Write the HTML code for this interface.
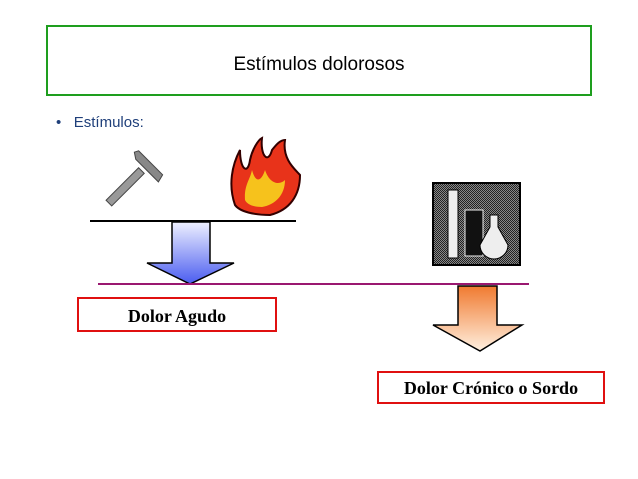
<!DOCTYPE html>
<html><head><meta charset="utf-8"><style>
body{margin:0;width:638px;height:479px;background:#fff;position:relative;overflow:hidden;font-family:"Liberation Sans",sans-serif}
.a{position:absolute}
</style></head><body>
<div class="a" style="left:46px;top:25px;width:542px;height:67px;border:2px solid #1e9e1e;"></div>
<div class="a" style="left:48px;top:54px;width:542px;text-align:center;font-size:19px;color:#000">Estímulos dolorosos</div>
<div class="a" style="left:56px;top:114px;font-size:15px;color:#1f3f7a">•&nbsp;&nbsp;&nbsp;Estímulos:</div>
<svg class="a" style="left:0;top:0" width="638" height="479">
<defs>
<linearGradient id="b" x1="0" y1="0" x2="0" y2="1"><stop offset="0" stop-color="#eef0ff"/><stop offset="1" stop-color="#4a5cf0"/></linearGradient>
<linearGradient id="o" x1="0" y1="0" x2="0" y2="1"><stop offset="0" stop-color="#f07a30"/><stop offset="1" stop-color="#fff0e0"/></linearGradient>
<pattern id="d" width="2" height="2" patternUnits="userSpaceOnUse"><rect width="2" height="2" fill="#888"/><rect width="1" height="1" fill="#222"/><rect x="1" y="1" width="1" height="1" fill="#222"/></pattern>
</defs>
<!-- hammer -->
<g transform="translate(140,172) rotate(45)">
<rect x="-4" y="-2" width="8" height="46" fill="#999" stroke="#444" stroke-width="1"/>
<path d="M-16,-14 L18,-14 L20,-6 L-12,-6 L-18,-10 Z" fill="#888" stroke="#444"/>
</g>
<!-- fire -->
<path d="M235,205 C228,185 232,165 240,150 C240,170 248,175 250,160 C252,150 258,140 262,138 C260,155 268,165 272,150 C276,145 280,140 285,140 C282,160 296,170 300,175 C300,195 290,210 270,215 C255,215 240,212 235,205 Z" fill="#e8331a" stroke="#300" stroke-width="2"/>
<path d="M245,200 C244,185 250,180 252,170 C256,185 262,180 265,170 C270,185 280,185 285,180 C285,195 275,205 262,207 C252,207 247,204 245,200 Z" fill="#f6c21c"/>
<line x1="90" y1="221" x2="296" y2="221" stroke="#000" stroke-width="2"/>
<path d="M172,222 H210 V263 H234 L190,284 L147,263 H172 Z" fill="url(#b)" stroke="#000" stroke-width="1.5"/>
<line x1="98" y1="284" x2="529" y2="284" stroke="#9a1870" stroke-width="2"/>
<!-- chemistry icon -->
<rect x="433" y="183" width="87" height="82" fill="url(#d)" stroke="#000" stroke-width="2"/>
<rect x="448" y="190" width="10" height="68" fill="#eee" stroke="#000"/>
<rect x="465" y="210" width="18" height="46" fill="#111" stroke="#eee"/>
<path d="M490,215 h8 v12 l10,18 a10,10 0 0 1 -28,0 l10,-18 z" fill="#eee" stroke="#000"/>
<path d="M458,286 H497 V325 H522 L480,351 L433,325 H458 Z" fill="url(#o)" stroke="#000" stroke-width="1.5"/>
<rect x="78" y="298" width="198" height="33" fill="#fff" stroke="#e01010" stroke-width="2"/>
<text x="177" y="322" text-anchor="middle" font-family="Liberation Serif" font-weight="bold" font-size="18">Dolor Agudo</text>
<rect x="378" y="372" width="226" height="31" fill="#fff" stroke="#e01010" stroke-width="2"/>
<text x="491" y="394" text-anchor="middle" font-family="Liberation Serif" font-weight="bold" font-size="18">Dolor Crónico o Sordo</text>
</svg>
</body></html>
